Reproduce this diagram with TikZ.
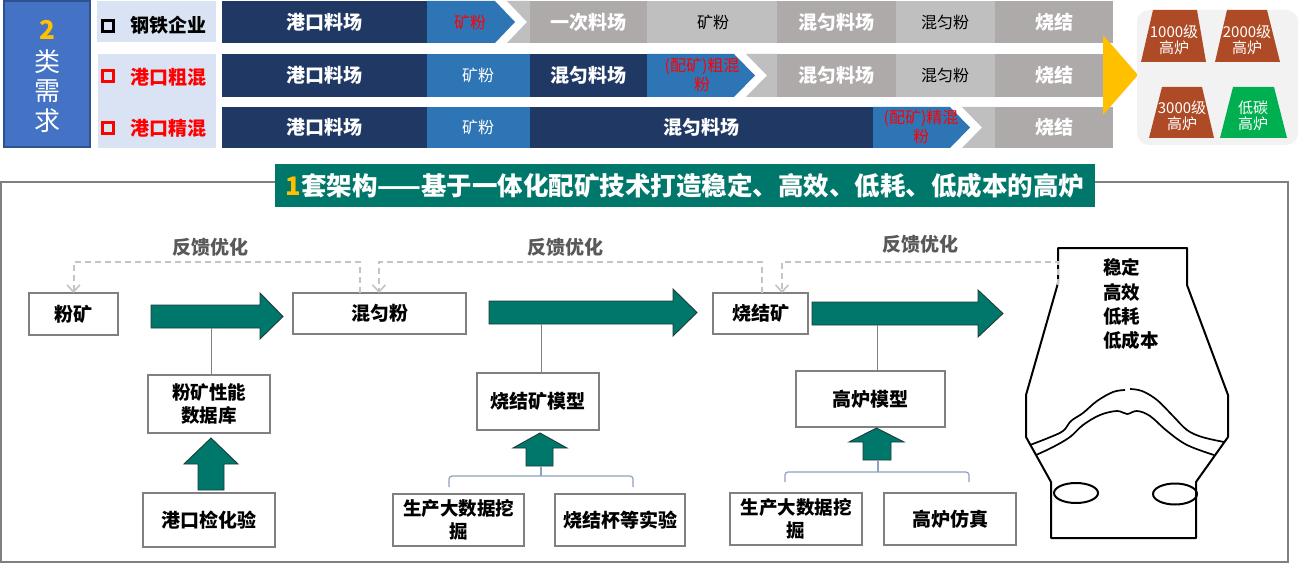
\documentclass[tikz,border=0pt]{standalone}
\usepackage{fontspec}
\newfontfamily\cjk{Noto Sans CJK SC}
\usetikzlibrary{arrows.meta}
\definecolor{navy}{HTML}{203864}
\definecolor{mblue}{HTML}{2E75B6}
\definecolor{dgray}{HTML}{AEAAAA}
\definecolor{lgray}{HTML}{BFBFBF}
\definecolor{lblue}{HTML}{DAE3F3}
\definecolor{bbox}{HTML}{4472C4}
\definecolor{bboxd}{HTML}{2F528F}
\definecolor{gold}{HTML}{FFC000}
\definecolor{teal2}{HTML}{00776B}
\definecolor{tealdark}{HTML}{1E3B38}
\definecolor{brown2}{HTML}{AE4B26}
\definecolor{green2}{HTML}{00B050}
\definecolor{panel}{HTML}{F2F2F2}
\definecolor{fbgray}{HTML}{C4C4C4}
\definecolor{txtgray}{HTML}{595959}
\definecolor{framec}{HTML}{808080}
\definecolor{brkc}{HTML}{8EA2BE}
\definecolor{tred}{HTML}{FF0000}
\newcommand\fsz[2]{\fontsize{#1}{#2}\selectfont}
\begin{document}
\begin{tikzpicture}[x=1pt,y=-1pt,
  every node/.style={font=\cjk, inner sep=0pt, outer sep=0pt},
  wb/.style={text=white, font=\cjk\bfseries\fsz{19}{21}},
  wn/.style={text=white, font=\cjk\fsz{16}{18}},
  kn/.style={text=black, font=\cjk\fsz{16}{18}},
  rn/.style={text=tred, font=\cjk\fsz{16}{19}, align=center},
  lab/.style={font=\cjk\bfseries\fsz{19}{21}},
  bullet/.style={draw, line width=2.6pt, minimum width=11pt, minimum height=11pt},
  box/.style={draw=framec, line width=1.3pt, fill=white, text=black, align=center, font=\cjk\bfseries\fsz{19}{23}},
  fb/.style={draw=fbgray, line width=2pt, dash pattern=on 6pt off 4pt},
  fbtip/.style={-{Straight Barb[length=7pt,width=13pt,line width=1.6pt]}},
  fbl/.style={text=txtgray, font=\cjk\bfseries\fsz{19}{21}},
  bigarr/.style={fill=teal2, draw=tealdark, line width=0.9pt, line join=miter},
  conn/.style={draw=framec, line width=1pt},
  brk/.style={draw=brkc, line width=1.2pt, rounded corners=3pt},
  furn/.style={draw=black, line width=2pt, line join=round},
  trap/.style={fill=brown2},
  tt/.style={text=white, align=center, font=\cjk\fsz{15}{16}}
]
\fill[white] (0,0) rectangle (1300,564);
\useasboundingbox (0,0) rectangle (1300,564);

% ---------- left "2 类需求" box ----------
\draw[fill=bbox, draw=bboxd, line width=1.5pt] (4,1) rectangle (90,147);
\node[text=gold, font=\cjk\bfseries\fsz{26}{28}] (two) at (47,30) {2};
\node[text=white, font=\cjk\fsz{26}{28}] (lei) at (47,62) {类};
\node[text=white, font=\cjk\fsz{26}{28}] (xu) at (47,91) {需};
\node[text=white, font=\cjk\fsz{26}{28}] (qiu) at (47,121) {求};

% ---------- label boxes ----------
\fill[lblue] (97,1) rectangle (216,42);
\fill[lblue] (98,54) rectangle (216,148);
\node[bullet, draw=black] (b1) at (108,26) {};
\node[bullet, draw=tred] (b2) at (108,76) {};
\node[bullet, draw=tred] (b3) at (108,128) {};
\node[lab, text=black] (l1) at (168,25) {钢铁企业};
\node[lab, text=tred] (l2) at (168,77) {港口粗混};
\node[lab, text=tred] (l3) at (168,128) {港口精混};

% ---------- row 1 ----------
\fill[navy] (222,1) rectangle (427,43);
\fill[mblue] (427,1) -- (495,1) -- (515,22) -- (495,43) -- (427,43) -- cycle;
\fill[lgray] (507,1) -- (530,1) -- (530,43) -- (507,43) -- (527,22) -- cycle;
\fill[dgray] (530,1) rectangle (647,43);
\fill[lgray] (647,1) rectangle (777,43);
\fill[dgray] (777,1) rectangle (896,43);
\fill[lgray] (896,1) rectangle (995,43);
\fill[dgray] (995,1) rectangle (1113,43);
\node[wb] (r1a) at (324,22) {港口料场};
\node[kn, text=tred] (r1b) at (470,22) {矿粉};
\node[wb] (r1c) at (588,22) {一次料场};
\node[kn] (r1d) at (713,22) {矿粉};
\node[wb] (r1e) at (836,22) {混匀料场};
\node[kn] (r1f) at (945,22) {混匀粉};
\node[wb] (r1g) at (1054,22) {烧结};

% ---------- row 2 ----------
\fill[navy] (222,54) rectangle (427,97);
\fill[mblue] (427,54) rectangle (530,97);
\fill[navy] (530,54) rectangle (647,97);
\fill[mblue] (647,54) -- (734,54) -- (755,75.5) -- (734,97) -- (647,97) -- cycle;
\fill[lgray] (746,54) -- (777,54) -- (777,97) -- (746,97) -- (767,75.5) -- cycle;
\fill[dgray] (777,54) rectangle (896,97);
\fill[lgray] (896,54) rectangle (995,97);
\fill[dgray] (995,54) rectangle (1113,97);
\node[wb] (r2a) at (324,75.5) {港口料场};
\node[wn] (r2b) at (478,75.5) {矿粉};
\node[wb] (r2c) at (588,75.5) {混匀料场};
\node[rn] (r2d) at (702,75) {(配矿)粗混\\粉};
\node[wb] (r2e) at (836,75.5) {混匀料场};
\node[kn] (r2f) at (945,75.5) {混匀粉};
\node[wb] (r2g) at (1054,75.5) {烧结};

% ---------- row 3 ----------
\fill[navy] (222,107) rectangle (427,148);
\fill[mblue] (427,107) rectangle (530,148);
\fill[navy] (530,107) rectangle (873,148);
\fill[mblue] (873,107) -- (950,107) -- (970,127.5) -- (950,148) -- (873,148) -- cycle;
\fill[lgray] (962,107) -- (995,107) -- (995,148) -- (962,148) -- (982,127.5) -- cycle;
\fill[dgray] (995,107) rectangle (1113,148);
\node[wb] (r3a) at (324,127.5) {港口料场};
\node[wn] (r3b) at (478,127.5) {矿粉};
\node[wb] (r3c) at (701,127.5) {混匀料场};
\node[rn] (r3d) at (921,127) {(配矿)精混\\粉};
\node[wb] (r3g) at (1054,127.5) {烧结};

% ---------- yellow arrow ----------
\fill[gold] (1103,35) -- (1138,75) -- (1103,115) -- cycle;

% ---------- right panel ----------
\fill[panel, rounded corners=12pt] (1137,10) rectangle (1298,145);
\fill[trap] (1153,10) -- (1197,10) -- (1206,62) -- (1141,62) -- cycle;
\fill[trap] (1227,10) -- (1267,10) -- (1280,62) -- (1215,62) -- cycle;
\fill[trap] (1162,87) -- (1202,87) -- (1214,138) -- (1149,138) -- cycle;
\fill[green2] (1233,87) -- (1274,87) -- (1287,138) -- (1220,138) -- cycle;
\node[tt] (f1) at (1174,40) {1000级\\高炉};
\node[tt] (f2) at (1247,40) {2000级\\高炉};
\node[tt] (f3) at (1182,116) {3000级\\高炉};
\node[tt] (f4) at (1253,116) {低碳\\高炉};

% ---------- frame and banner ----------
\draw[draw=framec, line width=1.5pt] (1,182) rectangle (1288,562);
\fill[teal2] (275,164) rectangle (1095,207);
\node[text=white, font=\cjk\bfseries\fsz{25.5}{27}] (banner) at (685,186)
  {\textcolor{gold}{1}套架构——基于一体化配矿技术打造稳定、高效、低耗、低成本的高炉};

% ---------- furnace ----------
\draw[furn] (1058,283) -- (1058,248) -- (1187,248) -- (1187,285) -- (1228,395) -- (1228,437)
  -- (1196,482) -- (1196,538) -- (1051,538) -- (1051,482) -- (1026,437) -- (1026,395) -- cycle;
\draw[furn, line width=1.7pt] plot[smooth, tension=0.6] coordinates {(1030,445) (1048,438) (1063,431) (1071,421) (1083,413) (1097,401) (1113,392) (1125,390)};
\draw[furn, line width=1.7pt] plot[smooth, tension=0.6] coordinates {(1130,389) (1142,391) (1157,400) (1173,416) (1187,430) (1202,437) (1224,442)};
\draw[furn, line width=1.7pt] plot[smooth, tension=0.6] coordinates {(1036,455) (1053,447) (1070,437) (1083,425) (1100,415) (1117,411) (1127,414) (1137,411) (1150,416) (1167,431) (1187,445) (1214,455)};
\draw[furn] (1076,493) ellipse [x radius=22, y radius=10];
\draw[furn] (1175,494) ellipse [x radius=22, y radius=10.5];
\node[anchor=west, font=\cjk\bfseries\fsz{18.5}{20}] (g1) at (1103,267) {稳定};
\node[anchor=west, font=\cjk\bfseries\fsz{18.5}{20}] (g2) at (1103,292) {高效};
\node[anchor=west, font=\cjk\bfseries\fsz{18.5}{20}] (g3) at (1103,316) {低耗};
\node[anchor=west, font=\cjk\bfseries\fsz{18.5}{20}] (g4) at (1103,340) {低成本};
\coordinate (furnin) at (1058,285);

% ---------- boxes ----------
\node[box, minimum width=89pt, minimum height=42pt] (fk) at (73.5,314) {粉矿};
\node[box, minimum width=173pt, minimum height=41pt] (hyf) at (379.5,313.5) {混匀粉};
\node[box, minimum width=95pt, minimum height=41pt] (sjk) at (760.5,313.5) {烧结矿};
\node[box, minimum width=122pt, minimum height=58pt, font=\cjk\bfseries\fsz{18.5}{23}] (fkdb) at (209,404) {粉矿性能\\数据库};
\node[box, minimum width=132pt, minimum height=54pt] (gk) at (209,520) {港口检化验};
\node[box, minimum width=122pt, minimum height=57pt] (sjm) at (538,401.5) {烧结矿模型};
\node[box, minimum width=131pt, minimum height=52pt, font=\cjk\bfseries\fsz{18.5}{23}] (sc1) at (458.5,520) {生产大数据挖\\掘};
\node[box, minimum width=130pt, minimum height=52pt] (sjb) at (620,520) {烧结杯等实验};
\node[box, minimum width=149pt, minimum height=56pt] (glm) at (870.5,399) {高炉模型};
\node[box, minimum width=132pt, minimum height=52pt, font=\cjk\bfseries\fsz{18.5}{23}] (sc2) at (796,519) {生产大数据挖\\掘};
\node[box, minimum width=132pt, minimum height=52pt] (glf) at (950,519) {高炉仿真};

% ---------- feedback loops ----------
\draw[fb, fbtip] ([xshift=67pt]hyf.north west) -- ++(0,-31) -| (fk.north);
\draw[fb, fbtip] ([xshift=49pt]sjk.north west) -- ++(0,-31) -| ([xshift=86pt]hyf.north west);
\draw[fb, fbtip] (furnin) -- ++(0,-23) -| ([xshift=69pt]sjk.north west);
\node[fbl] (fb1) at (210,247) {反馈优化};
\node[fbl] (fb2) at (565,247) {反馈优化};
\node[fbl] (fb3) at (920,244) {反馈优化};

% ---------- big process arrows ----------
\draw[bigarr] (151,305) -- (260,305) -- (260,293) -- (283,316.5) -- (260,339) -- (260,328) -- (151,328) -- cycle;
\draw[bigarr] (489,301) -- (673,301) -- (673,289) -- (697,312.5) -- (673,336) -- (673,324) -- (489,324) -- cycle;
\draw[bigarr] (812,302) -- (978,302) -- (978,290) -- (1003,313.5) -- (978,337) -- (978,325) -- (812,325) -- cycle;

% ---------- model connectors ----------
\draw[conn] ([xshift=2pt]fkdb.north) -- ++(0,-47);
\draw[conn] ([xshift=3pt]sjm.north) -- ++(0,-49);
\draw[conn] ([xshift=6.5pt]glm.north) -- ++(0,-46);

% ---------- up arrows ----------
\draw[bigarr] (198,490) -- (198,464) -- (184,464) -- (211,438) -- (238,464) -- (224,464) -- (224,490) -- cycle;
\draw[bigarr] (526,466) -- (526,448) -- (513,448) -- (540,433) -- (567,448) -- (553,448) -- (553,466) -- cycle;
\draw[bigarr] (863,460) -- (863,442) -- (849,442) -- (876.5,428) -- (904,442) -- (891,442) -- (891,460) -- cycle;

% ---------- brackets ----------
\draw[brk] ([xshift=-9.5pt,yshift=7pt]sc1.north) |- (633,476) -- ([xshift=13pt,yshift=7pt]sjb.north);
\draw[brkc, line width=1.2pt] (541,476) -- (541,466);
\draw[brk] ([xshift=-11pt,yshift=11pt]sc2.north) |- (969,472) -- ([xshift=19pt,yshift=11pt]glf.north);
\draw[brkc, line width=1.2pt] (878,472) -- (878,460);
\end{tikzpicture}
\end{document}
